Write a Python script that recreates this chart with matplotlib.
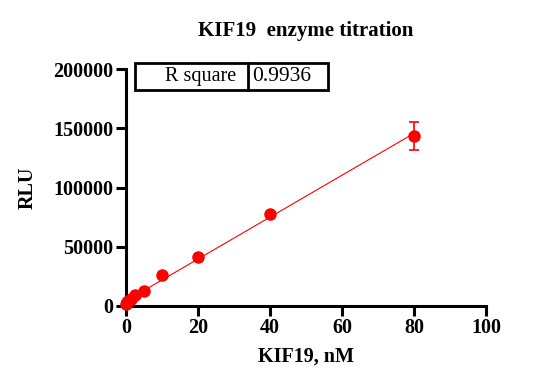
import numpy as np
import matplotlib.pyplot as plt
from matplotlib.patches import Rectangle

# KIF19 concentrations (nM) and luminescence
conc = [0, 0.3125, 0.625, 1.25, 2.5, 5, 10, 20, 40, 80]
rlu = [2000, 3000, 4000, 6000, 9500, 12500, 26000, 41000, 78000, 143500]
rlu_err = [0, 0, 0, 0, 0, 0, 0, 0, 0, 11800]

r_square = "0.9936"

plt.rcParams['font.family'] = ['Liberation Serif', 'DejaVu Serif']

fig = plt.figure(figsize=(5.48, 3.91), dpi=100)
ax = fig.add_axes([0.23, 0.2174, 0.657, 0.606])

# linear fit
slope, intercept = np.polyfit(conc, rlu, 1)
xfit = np.array([0, max(conc)])
ax.plot(xfit, slope * xfit + intercept, color='red', lw=0.8, zorder=2)

ax.plot(conc, rlu, 'o', color='red', ms=8, zorder=3, clip_on=False)
# error bars only where there is spread
ex = [c for c, e in zip(conc, rlu_err) if e > 0]
ey = [r for r, e in zip(rlu, rlu_err) if e > 0]
ee = [e for e in rlu_err if e > 0]
ax.errorbar(ex, ey, yerr=ee, fmt='none', ecolor='red', capsize=3.8,
            elinewidth=1.2, capthick=1.2, zorder=3)

ax.set_xlim(0, 100)
ax.set_ylim(0, 200000)
ax.set_xticks([0, 20, 40, 60, 80, 100])
ax.set_yticks([0, 50000, 100000, 150000, 200000])

for s in ['top', 'right']:
    ax.spines[s].set_visible(False)
for s in ['left', 'bottom']:
    ax.spines[s].set_linewidth(2.2)
ax.tick_params(width=2.2, length=7, labelsize=14.5, pad=2)
for lab in ax.get_xticklabels() + ax.get_yticklabels():
    lab.set_fontweight('bold')

ax.set_xlabel("KIF19, nM", fontsize=14.5, fontweight='bold', labelpad=6)
ax.set_ylabel("RLU", fontsize=14.5, fontweight='bold', labelpad=11)
ax.set_title("KIF19  enzyme titration", fontsize=15, fontweight='bold', pad=24)

# R square box
x0, y0, w, h = 0.025, 0.911, 0.536, 0.114
ax.add_patch(Rectangle((x0, y0), w, h, transform=ax.transAxes, fill=False,
                       lw=2, ec='black', clip_on=False, zorder=5))
xd = x0 + 113 / 360
ax.plot([xd, xd], [y0, y0 + h], transform=ax.transAxes, color='black',
        lw=2, clip_on=False, zorder=5)
ax.text(xd - 0.033, y0 + h / 2, "R square", transform=ax.transAxes,
        ha='right', va='center', fontsize=14.5)
ax.text(xd + 0.012, y0 + h / 2, r_square, transform=ax.transAxes,
        ha='left', va='center', fontsize=15.5)

plt.savefig("out.png", dpi=100)
